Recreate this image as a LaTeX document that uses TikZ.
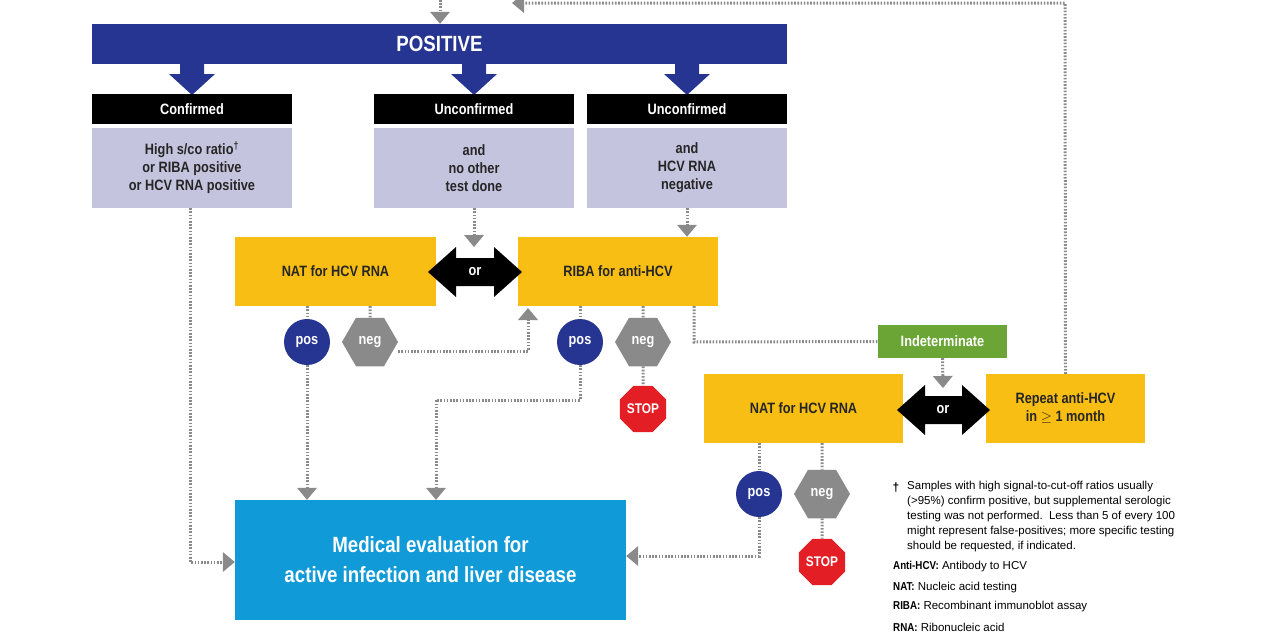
\documentclass[tikz,border=0pt]{standalone}
\usepackage{fontspec}
\setmainfont{Liberation Sans}
\newfontfamily\cond{Liberation Sans}[FakeStretch=0.85]
\usetikzlibrary{arrows.meta,shapes.geometric}
\definecolor{navy}{HTML}{263591}
\definecolor{lav}{HTML}{C5C4DF}
\definecolor{yel}{HTML}{F9BE13}
\definecolor{cyanb}{HTML}{109AD7}
\definecolor{grn}{HTML}{6AA535}
\definecolor{stopr}{HTML}{E31E24}
\definecolor{dgray}{HTML}{8A8A8A}
\begin{document}
\begin{tikzpicture}[x=1pt,y=-1pt,
 box/.style={draw=none,inner sep=0pt,font=\cond\bfseries\fontsize{15}{18}\selectfont,align=center},
 hdr/.style={box,fill=black,text=white,minimum width=200pt,minimum height=30pt},
 lavb/.style={box,fill=lav,text=black!85,minimum width=200pt,minimum height=80pt},
 yb/.style={box,fill=yel,text=black!85,minimum height=69pt},
 posn/.style={circle,fill=navy,text=white,minimum size=46pt,inner sep=0pt,font=\cond\bfseries\fontsize{15}{16}\selectfont},
 negn/.style={regular polygon,regular polygon sides=6,fill=dgray,text=white,minimum size=56pt,inner sep=0pt,font=\cond\bfseries\fontsize{15}{16}\selectfont},
 stopn/.style={regular polygon,regular polygon sides=8,fill=stopr,text=white,minimum size=50pt,inner sep=0pt,font=\cond\bfseries\fontsize{14}{15}\selectfont},
 dl/.style={draw=dgray,line width=3pt,dash pattern=on 1.6pt off 1.6pt},
 da/.style={dl,-{Triangle[length=12pt,width=20pt,fill=dgray,line width=0pt]}},
 nt/.style={font=\fontsize{11.5}{15}\selectfont,anchor=west,inner sep=0pt}]
\useasboundingbox (0,0) rectangle (1280,640);
% positive bar
\node[box,fill=navy,text=white,minimum width=695pt,minimum height=40pt,font=\cond\bfseries\fontsize{22}{24}\selectfont] (posbar) at (439.5,44) {POSITIVE};
\coordinate (top1) at (440,0);
\draw[da] (top1) -- (posbar.north -| top1);
% navy block arrows
\foreach \x in {192,474,687}{
 \fill[navy] (\x-12,64) -- (\x+12,64) -- (\x+12,74) -- (\x+23,74) -- (\x,95) -- (\x-23,74) -- (\x-12,74) -- cycle;}
\node[hdr] (h1) at (192,109) {Confirmed};
\node[hdr] (h2) at (474,109) {Unconfirmed};
\node[hdr] (h3) at (687,109) {Unconfirmed};
\node[lavb] (l1) at (192,168) {High s/co ratio\textsuperscript{\dag}\\or RIBA positive\\or HCV RNA positive};
\node[lavb] (l2) at (474,168) {and\\no other\\test done};
\node[lavb] (l3) at (687,168) {and\\HCV RNA\\negative};
% yellow boxes
\node[yb,minimum width=201pt] (nat1) at (335.5,271.5) {NAT for HCV RNA};
\node[yb,minimum width=200pt] (riba) at (618,271.5) {RIBA for anti-HCV};
\fill[black] (428,272) -- (456,247) -- (456,258) -- (494,258) -- (494,247) -- (522,272) -- (494,297) -- (494,286) -- (456,286) -- (456,297) -- cycle;
\node[text=white,font=\cond\bfseries\fontsize{15}{16}\selectfont] (or1) at (475,272) {or};
% medical
\node[box,fill=cyanb,text=white,minimum width=391pt,minimum height=120pt,font=\cond\bfseries\fontsize{22}{30}\selectfont] (med) at (430.5,560) {Medical evaluation for\\active infection and liver disease};
% pos/neg row 1
\node[posn] (p1) at (307,342) {pos};
\node[negn] (n1) at (370,342) {neg};
\node[posn] (p2) at (580,342) {pos};
\node[negn] (n2) at (643,342) {neg};
\node[stopn] (s1) at (643,409) {STOP};
% indeterminate etc
\node[box,fill=grn,text=white,minimum width=129pt,minimum height=33pt] (ind) at (942.5,341.5) {Indeterminate};
\node[yb,minimum width=199pt] (nat2) at (803.5,408.5) {NAT for HCV RNA};
\node[yb,minimum width=159pt] (rep) at (1065.5,408.5) {Repeat anti-HCV\\in $\geq$ 1 month};
\fill[black] (897,410) -- (925,385) -- (925,396) -- (962,396) -- (962,385) -- (990,410) -- (962,435) -- (962,424) -- (925,424) -- (925,435) -- cycle;
\node[text=white,font=\cond\bfseries\fontsize{15}{16}\selectfont] (or2) at (943,410) {or};
\node[posn] (p3) at (759,494) {pos};
\node[negn] (n3) at (822,494) {neg};
\node[stopn] (s2) at (822,562) {STOP};
% connectors
\coordinate (c1) at (190,562);
\draw[da] (l1.south -| c1) -- (c1) -- (med.west |- c1);
\draw[da] (l2.south) -- (474,247);
\draw[da] (l3.south) -- (riba.north -| l3.south);
\draw[dl] (nat1.south -| p1) -- (p1.north);
\draw[dl] (nat1.south -| n1) -- (n1.north);
\draw[dl] (riba.south -| p2) -- (p2.north);
\draw[dl] (riba.south -| n2) -- (n2.north);
\draw[dl] (n2.south) -- (s1.north);
\coordinate (c2) at (528,351);
\draw[da] (n1.east |- c2) -- (c2) -- (528,308);
\draw[da] (p1.south) -- (med.north -| p1);
\coordinate (c3) at (436,400);
\draw[da] (p2.south) -- (p2 |- c3) -- (c3) -- (med.north -| c3);
\coordinate (c4) at (694,342);
\draw[dl] (riba.south -| c4) -- (c4) -- (ind.west);
\draw[da] (ind.south) -- (943,388);
\coordinate (c5) at (1065,3);
\draw[da] (rep.north) -- (c5) -- (512,3);
\draw[dl] (nat2.south -| p3) -- (p3.north);
\draw[dl] (nat2.south -| n3) -- (n3.north);
\draw[dl] (n3.south) -- (s2.north);
\coordinate (c6) at (759,556);
\draw[da] (p3.south) -- (c6) -- (med.east |- c6);
% notes
\node[font=\bfseries\fontsize{12}{13}\selectfont] (dag) at (896,488) {\dag};
\node[nt,anchor=north west,align=left] (fn) at (907,481) {Samples with high signal-to-cut-off ratios usually\\(>95\%) confirm positive, but supplemental serologic\\testing was not performed.\ \ Less than 5 of every 100\\might represent false-positives; more specific testing\\should be requested, if indicated.};
\node[nt] (d1) at (893,567) {{\cond\bfseries Anti-HCV:} Antibody to HCV};
\node[nt] (d2) at (893,588) {{\cond\bfseries NAT:} Nucleic acid testing};
\node[nt] (d3) at (893,607) {{\cond\bfseries RIBA:} Recombinant immunoblot assay};
\node[nt] (d4) at (893,627) {{\cond\bfseries RNA:} Ribonucleic acid};
\end{tikzpicture}
\end{document}
